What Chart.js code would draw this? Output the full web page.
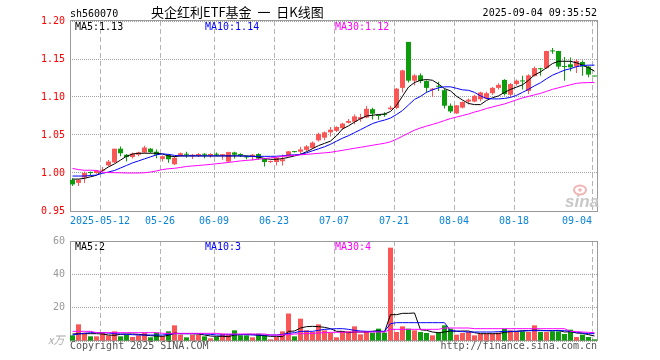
<!DOCTYPE html>
<html>
<head>
<meta charset="utf-8">
<title>央企红利ETF基金 日K线图</title>
<script src="https://cdn.jsdelivr.net/npm/chart.js"></script>
<style>
  body { margin: 0; background: #fff; }
  #wrap { position: relative; width: 660px; height: 360px; }
  #kline { position: absolute; left: 0; top: 0; }
  #vol { position: absolute; left: 0; top: 230px; }
</style>
</head>
<body>
<div id="wrap">
  <canvas id="kline" width="660" height="230"></canvas>
  <canvas id="vol" width="660" height="130"></canvas>
</div>
<script>
// trading days shown on the chart
const dates = [
  '2025-04-30','2025-05-06','2025-05-07','2025-05-08','2025-05-09',
  '2025-05-12','2025-05-13','2025-05-14','2025-05-15','2025-05-16',
  '2025-05-19','2025-05-20','2025-05-21','2025-05-22','2025-05-23',
  '2025-05-26','2025-05-27','2025-05-28','2025-05-29','2025-05-30',
  '2025-06-03','2025-06-04','2025-06-05','2025-06-06',
  '2025-06-09','2025-06-10','2025-06-11','2025-06-12','2025-06-13',
  '2025-06-16','2025-06-17','2025-06-18','2025-06-19','2025-06-20',
  '2025-06-23','2025-06-24','2025-06-25','2025-06-26','2025-06-27',
  '2025-06-30','2025-07-01','2025-07-02','2025-07-03','2025-07-04',
  '2025-07-07','2025-07-08','2025-07-09','2025-07-10','2025-07-11',
  '2025-07-14','2025-07-15','2025-07-16','2025-07-17','2025-07-18',
  '2025-07-21','2025-07-22','2025-07-23','2025-07-24','2025-07-25',
  '2025-07-28','2025-07-29','2025-07-30','2025-07-31','2025-08-01',
  '2025-08-04','2025-08-05','2025-08-06','2025-08-07','2025-08-08',
  '2025-08-11','2025-08-12','2025-08-13','2025-08-14','2025-08-15',
  '2025-08-18','2025-08-19','2025-08-20','2025-08-21','2025-08-22',
  '2025-08-25','2025-08-26','2025-08-27','2025-08-28','2025-08-29',
  '2025-09-01','2025-09-02','2025-09-03','2025-09-04'
];

const open = [
  0.991,0.987,0.994,1.001,1.000,1.003,1.010,1.014,1.032,1.024,
  1.021,1.024,1.027,1.032,1.028,1.0185,1.024,1.0115,1.0225,1.025,
  1.0225,1.0235,1.025,1.0235,1.025,1.0235,1.015,1.027,1.025,1.0215,
  1.021,1.025,1.019,1.0145,1.0145,1.0155,1.022,1.0285,1.028,1.0305,
  1.033,1.043,1.0465,1.0535,1.0555,1.059,1.066,1.0675,1.071,1.073,
  1.084,1.076,1.0775,1.084,1.0855,1.112,1.1725,1.1215,1.1285,1.121,
  1.1095,1.1145,1.109,1.0885,1.0785,1.086,1.094,1.094,1.097,1.098,
  1.105,1.112,1.1225,1.103,1.117,1.1215,1.108,1.1275,1.1375,1.138,
  1.161,1.1605,1.1405,1.143,1.140,1.146,1.140,1.1275
];
const high = [
  0.993,0.992,1.002,1.002,1.004,1.008,1.017,1.032,1.035,1.025,
  1.027,1.028,1.036,1.033,1.031,1.023,1.025,1.022,1.027,1.028,
  1.025,1.026,1.026,1.026,1.027,1.025,1.028,1.028,1.026,1.023,
  1.025,1.026,1.020,1.0165,1.021,1.0245,1.029,1.029,1.0345,1.037,
  1.0415,1.053,1.0545,1.0605,1.0615,1.066,1.071,1.077,1.078,1.088,
  1.086,1.077,1.080,1.0885,1.112,1.136,1.1725,1.130,1.131,1.122,
  1.112,1.120,1.111,1.0915,1.0895,1.094,1.098,1.103,1.107,1.107,
  1.113,1.118,1.1235,1.1185,1.123,1.128,1.130,1.140,1.1385,1.161,
  1.1645,1.161,1.1525,1.152,1.150,1.148,1.141,1.1275
];
const low = [
  0.983,0.983,0.987,0.997,0.999,1.002,1.009,1.013,1.022,1.015,
  1.019,1.022,1.026,1.026,1.0195,1.015,1.0135,1.0105,1.022,1.020,
  1.0185,1.021,1.0195,1.020,1.022,1.0175,1.014,1.019,1.021,1.018,
  1.0165,1.0175,1.0085,1.013,1.010,1.010,1.0215,1.027,1.025,1.029,
  1.032,1.0415,1.043,1.048,1.054,1.057,1.065,1.064,1.0675,1.072,
  1.0705,1.070,1.074,1.083,1.084,1.106,1.119,1.115,1.118,1.106,
  1.100,1.108,1.085,1.079,1.0775,1.085,1.090,1.093,1.094,1.097,
  1.103,1.110,1.102,1.100,1.115,1.110,1.104,1.127,1.128,1.137,
  1.157,1.137,1.1215,1.134,1.1315,1.128,1.126,1.127
];
const close = [
  0.985,0.991,1.000,1.000,1.003,1.004,1.015,1.032,1.026,1.021,
  1.0255,1.027,1.0335,1.0275,1.024,1.022,1.018,1.020,1.026,1.024,
  1.024,1.025,1.024,1.025,1.024,1.0245,1.0275,1.024,1.0235,1.0205,
  1.024,1.019,1.0145,1.0155,1.020,1.018,1.0285,1.0275,1.031,1.035,
  1.040,1.0515,1.0535,1.057,1.0605,1.065,1.0685,1.0745,1.0735,1.0845,
  1.078,1.075,1.0765,1.086,1.111,1.135,1.1215,1.1285,1.121,1.112,
  1.111,1.1135,1.0885,1.081,1.089,1.0935,1.0965,1.1015,1.106,1.105,
  1.112,1.116,1.104,1.117,1.1215,1.1205,1.1285,1.138,1.1365,1.1605,
  1.160,1.140,1.1395,1.139,1.1475,1.140,1.1295,1.127
];

const ma5 = [
  0.992,0.992,0.993,0.995,0.997,1.003,1.008,1.012,1.017,1.022,
  1.025,1.026,1.026,1.026,1.026,1.025,1.0225,1.0215,1.0225,1.0225,
  1.0225,1.0225,1.0225,1.0225,1.0225,1.0225,1.0225,1.0225,1.0225,1.0225,
  1.022,1.021,1.019,1.018,1.018,1.019,1.0205,1.0225,1.0245,1.028,
  1.032,1.036,1.039,1.042,1.049,1.058,1.062,1.067,1.0715,1.075,
  1.076,1.077,1.0775,1.081,1.089,1.101,1.113,1.119,1.122,1.123,
  1.122,1.117,1.111,1.108,1.101,1.096,1.0915,1.090,1.090,1.0955,
  1.099,1.1015,1.106,1.110,1.113,1.116,1.122,1.129,1.133,1.1385,
  1.144,1.147,1.147,1.147,1.145,1.142,1.1385,1.134
];
const ma10 = [
  0.996,0.996,0.996,0.9967,0.9973,0.9996,1.0013,1.0033,1.0066,1.0099,
  1.0133,1.0159,1.0186,1.0212,1.0239,1.0252,1.0245,1.0232,1.0225,1.0225,
  1.0225,1.0225,1.0225,1.0225,1.0225,1.0225,1.0225,1.0225,1.0225,1.0221,
  1.0219,1.0219,1.0219,1.0219,1.0221,1.0225,1.0235,1.0239,1.0245,1.0265,
  1.0292,1.0318,1.0345,1.0378,1.0418,1.0458,1.0491,1.0531,1.057,1.061,
  1.065,1.0676,1.0696,1.0723,1.0769,1.0822,1.0895,1.0968,1.1008,1.1061,
  1.1094,1.1121,1.1134,1.1134,1.1114,1.1094,1.1088,1.1061,1.1015,1.0981,
  1.0975,1.0975,1.0981,1.0995,1.1021,1.1061,1.1101,1.1147,1.1187,1.124,
  1.1287,1.132,1.1353,1.1373,1.1399,1.1415,1.1419,1.1419
];
const ma30 = [
  1.006,1.0045,1.0036,1.0036,1.0034,1.001,1.0005,1.0004,1.0003,1.000,
  1.000,1.000,1.0003,1.0013,1.0027,1.0046,1.0056,1.0062,1.0073,1.0086,
  1.0093,1.0099,1.0106,1.0113,1.0122,1.013,1.0139,1.0149,1.0159,1.0166,
  1.0172,1.0182,1.019,1.0199,1.0208,1.0219,1.0225,1.0232,1.0239,1.0245,
  1.0252,1.0259,1.0265,1.0272,1.0285,1.0298,1.0312,1.0325,1.0338,1.0351,
  1.0365,1.0378,1.0391,1.0411,1.0444,1.0484,1.0524,1.0564,1.0593,1.0617,
  1.0639,1.0663,1.069,1.0716,1.0736,1.0756,1.0776,1.0802,1.0822,1.0849,
  1.0869,1.0889,1.0909,1.0935,1.0962,1.0988,1.1008,1.1028,1.1048,1.1074,
  1.1101,1.1121,1.1141,1.1161,1.118,1.1187,1.119,1.119
];

// volume, in units of 10k
const volume = [
  3.4,10,5.0,2.8,2.8,5.0,3.4,5.8,2.8,3.8,
  2.4,3.4,5.0,2.2,5.0,3.0,5.8,9.4,3.8,2.2,
  3.8,3.8,2.8,1.6,2.4,4.4,3.8,6.4,3.4,3.4,
  2.2,4.4,3.4,1.0,2.4,5.8,16.5,2.8,13.4,6.4,
  5.4,10,6.4,5.0,2.2,5.8,5.8,8.8,4.0,5.8,
  5.0,7.4,5.0,56,5.4,8.8,7.4,6.4,5.4,4.8,
  3.4,5.0,9.4,7.4,3.8,4.8,5.4,3.4,4.4,4.4,
  4.4,5.0,7.4,6.4,5.8,5.8,5.4,9.4,5.4,5.4,
  5.8,5.8,4.2,6.8,2.4,3.8,2.4,1.0
];
const volMa5 = [
  4.2,4.4,4.4,4.4,4.4,4.2,3.6,3.4,4.0,4.2,
  4.2,4.0,3.6,3.2,3.0,2.8,3.4,4.8,4.4,4.4,
  4.4,4.2,3.6,3.0,2.8,2.8,2.6,3.6,3.8,4.0,
  4.0,3.4,3.2,2.8,2.8,2.6,5.8,6.0,7.8,8.6,
  8.8,8.6,8.2,7.4,5.8,5.8,5.0,5.4,5.4,5.4,
  5.8,6.2,5.4,15.8,15.8,16.6,16.6,16.8,6.7,6.4,
  5.4,5.0,5.4,6.0,5.8,6.0,6.0,5.0,4.4,4.4,
  4.4,4.4,5.2,5.6,5.8,6.2,6.2,6.6,6.4,6.2,
  6.2,6.4,5.4,5.6,4.8,4.6,3.8,3.0
];
const volMa10 = [
  3.6,4.2,4.6,5.0,5.0,5.0,4.8,4.4,4.2,4.0,
  3.8,3.6,3.6,3.6,3.6,3.6,4.0,4.4,4.4,4.4,
  4.4,4.4,4.2,4.0,3.6,3.6,3.8,3.8,3.8,3.8,
  3.6,3.6,3.6,3.6,3.6,4.0,4.6,5.0,5.8,5.8,
  5.8,6.4,7.0,7.2,7.4,7.4,7.0,6.4,6.0,5.8,
  5.8,5.8,5.8,10.4,11.0,11.0,11.0,11.0,11.0,11.0,
  11.0,11.0,11.0,6.2,6.0,5.6,5.4,5.4,5.4,5.4,
  5.4,5.6,5.8,5.8,5.8,6.0,6.2,6.2,6.2,6.2,
  6.2,6.2,6.2,5.8,5.2,4.8,4.4,4.4
];
const volMa30 = [
  5.8,5.8,5.8,5.8,5.0,5.0,5.0,5.0,5.0,5.0,
  5.0,5.0,5.0,5.0,5.0,4.6,4.6,4.6,4.6,4.6,
  4.6,4.6,4.6,4.6,4.6,4.2,4.2,4.2,4.2,4.2,
  4.2,4.2,4.2,3.6,3.6,3.6,3.8,4.2,4.4,4.4,
  4.6,4.8,5.0,5.2,5.2,5.2,5.4,5.4,5.4,5.4,
  5.4,5.4,5.4,7.0,7.0,7.0,7.0,7.0,7.0,7.0,
  7.0,7.0,7.8,7.8,7.8,7.8,7.8,7.4,7.4,7.4,
  7.4,7.4,7.4,7.4,7.4,7.4,7.4,7.4,7.4,7.4,
  7.4,7.4,7.4,5.8,5.6,5.4,5.2,5.0
];

// axis ticks
const tickDates = ['2025-05-12','2025-05-26','2025-06-09','2025-06-23','2025-07-07',
                   '2025-07-21','2025-08-04','2025-08-18','2025-09-04'];
const tickText = ['2025-05-12','05-26','06-09','06-23','07-07','07-21','08-04','08-18','09-04     '];
const priceTicks = [0.95, 1.00, 1.05, 1.10, 1.15, 1.20];
const volumeTicks = [0, 20, 40, 60];

const priceLegend = ['MA5:1.13', 'MA10:1.14', 'MA30:1.12'];
const volumeLegend = ['MA5:2', 'MA10:3', 'MA30:4'];

const UP = '#fa5656';
const DOWN = '#0c9c0c';
const MA_COLORS = ['#000000', '#0000ff', '#ff00ff'];
const MONO = '"DejaVu Sans Mono", monospace';
const SHIFT = 0.4167;   // gridline sits on the left edge of the candle

const idx = dates.map((d, i) => i);
const candleColor = idx.map(i => close[i] >= open[i] ? UP : DOWN);
const tickIndex = tickDates.map(d => dates.indexOf(d));

function xScale(showLabels) {
  return {
    type: 'linear',
    min: -SHIFT,
    max: dates.length - SHIFT,
    offset: false,
    afterBuildTicks: s => { s.ticks = tickIndex.map(k => ({ value: k - SHIFT })); },
    afterFit: s => { s.height = 19; },
    grid: { color: '#b4b4b4', lineWidth: 1, drawTicks: false, offset: false },
    border: { display: false, dash: [5, 3] },
    ticks: {
      display: showLabels, autoSkip: false, maxRotation: 0, padding: 4,
      color: '#0a84d8', font: { family: MONO, size: 10 },
      callback: (v, i) => tickText[i]
    }
  };
}

function maLine(values, color) {
  return {
    type: 'line',
    data: idx.map(i => ({ x: i, y: values[i] })),
    borderColor: color, borderWidth: 1, pointRadius: 0, tension: 0, order: 0
  };
}

function drawLegend(ctx, labels, y) {
  ctx.font = '10px ' + MONO;
  ctx.textAlign = 'left';
  [75, 205, 335].forEach((x, i) => {
    ctx.fillStyle = MA_COLORS[i];
    ctx.fillText(labels[i], x, y);
  });
}

const priceDecor = {
  id: 'priceDecor',
  beforeDatasetsDraw(chart) {
    const { ctx, chartArea: a } = chart;
    ctx.save();
    ctx.strokeStyle = '#9a9a9a';
    ctx.lineWidth = 1;
    ctx.strokeRect(a.left + 0.5, a.top - 0.5, a.right - a.left - 1, a.bottom - a.top + 1);
    // sina watermark
    ctx.strokeStyle = '#f3b4b4';
    ctx.lineWidth = 2;
    ctx.beginPath();
    ctx.ellipse(580, 190, 6, 4.5, 0, 0, Math.PI * 2);
    ctx.stroke();
    ctx.fillStyle = '#f3b4b4';
    ctx.beginPath();
    ctx.arc(580, 190, 1.8, 0, Math.PI * 2);
    ctx.fill();
    ctx.font = 'italic bold 17px "Liberation Sans"';
    ctx.fillStyle = '#c8c8c8';
    ctx.fillText('sina', 565, 207);
    ctx.restore();
  },
  afterDraw(chart) {
    const ctx = chart.ctx;
    ctx.save();
    ctx.fillStyle = '#000';
    ctx.textBaseline = 'alphabetic';
    ctx.font = '10px ' + MONO;
    ctx.textAlign = 'left';
    ctx.fillText('sh560070', 70, 17);
    ctx.font = '13px "Noto Sans CJK SC"';
    ctx.fillText('央企红利ETF基金  一  日K线图', 151, 17);
    ctx.font = '10px ' + MONO;
    ctx.textAlign = 'right';
    ctx.fillText('2025-09-04 09:35:52', 597, 16);
    drawLegend(ctx, priceLegend, 30);
    ctx.restore();
  }
};

const volumeDecor = {
  id: 'volumeDecor',
  beforeDatasetsDraw(chart) {
    const { ctx, chartArea: a } = chart;
    ctx.save();
    ctx.strokeStyle = '#9a9a9a';
    ctx.lineWidth = 1;
    ctx.strokeRect(a.left + 0.5, a.top + 0.5, a.right - a.left - 1, a.bottom - a.top - 1);
    ctx.restore();
  },
  afterDraw(chart) {
    const ctx = chart.ctx;
    ctx.save();
    ctx.textBaseline = 'alphabetic';
    drawLegend(ctx, volumeLegend, 20);
    ctx.font = 'italic 11px "Noto Sans CJK SC"';
    ctx.fillStyle = '#aaaaaa';
    ctx.textAlign = 'left';
    ctx.fillText('x万', 48, 114);
    ctx.font = '10px ' + MONO;
    ctx.fillStyle = '#555555';
    ctx.fillText('Copyright 2025 SINA.COM', 70, 119);
    ctx.textAlign = 'right';
    ctx.fillText('http://finance.sina.com.cn', 597, 119);
    ctx.restore();
  }
};

new Chart(document.getElementById('kline').getContext('2d'), {
  type: 'bar',
  data: {
    datasets: [
      {
        data: idx.map(i => ({ x: i, y: [low[i], high[i]] })),
        backgroundColor: candleColor, barThickness: 1, grouped: false,
        inflateAmount: 0, borderWidth: 0, order: 2
      },
      {
        data: idx.map(i => ({ x: i, y: [open[i], close[i]] })),
        backgroundColor: candleColor, barThickness: 5, grouped: false,
        inflateAmount: 0, borderWidth: 0, minBarLength: 1, order: 1
      },
      maLine(ma30, MA_COLORS[2]),
      maLine(ma10, MA_COLORS[1]),
      maLine(ma5, MA_COLORS[0])
    ]
  },
  options: {
    responsive: false,
    animation: false,
    layout: { padding: { top: 21, right: 62, left: 0, bottom: 0 } },
    plugins: { legend: { display: false }, tooltip: { enabled: false } },
    scales: {
      x: xScale(true),
      y: {
        min: 0.95, max: 1.20,
        afterBuildTicks: s => { s.ticks = priceTicks.map(v => ({ value: v })); },
        afterFit: s => { s.width = 70; },
        grid: { color: '#a0a0a0', lineWidth: 1, drawTicks: false },
        border: { display: false, dash: [1, 1] },
        ticks: { padding: 5, color: '#ff0000', font: { family: MONO, size: 10 },
                 callback: v => v.toFixed(2) }
      }
    }
  },
  plugins: [priceDecor]
});

new Chart(document.getElementById('vol').getContext('2d'), {
  type: 'bar',
  data: {
    datasets: [
      {
        data: idx.map(i => ({ x: i, y: volume[i] })),
        backgroundColor: candleColor, barThickness: 5, grouped: false,
        inflateAmount: 0, borderWidth: 0, order: 1
      },
      maLine(volMa30, MA_COLORS[2]),
      maLine(volMa10, MA_COLORS[1]),
      maLine(volMa5, MA_COLORS[0])
    ]
  },
  options: {
    responsive: false,
    animation: false,
    layout: { padding: { top: 10, right: 62, left: 0, bottom: 0 } },
    plugins: { legend: { display: false }, tooltip: { enabled: false } },
    scales: {
      x: xScale(false),
      y: {
        min: 0, max: 60,
        afterBuildTicks: s => { s.ticks = volumeTicks.map(v => ({ value: v })); },
        afterFit: s => { s.width = 70; },
        grid: { color: '#a0a0a0', lineWidth: 1, drawTicks: false },
        border: { display: false, dash: [1, 1] },
        ticks: { padding: 5, color: '#999999', font: { family: MONO, size: 10 },
                 callback: v => v === 0 ? '' : String(v) }
      }
    }
  },
  plugins: [volumeDecor]
});
</script>
</body>
</html>
